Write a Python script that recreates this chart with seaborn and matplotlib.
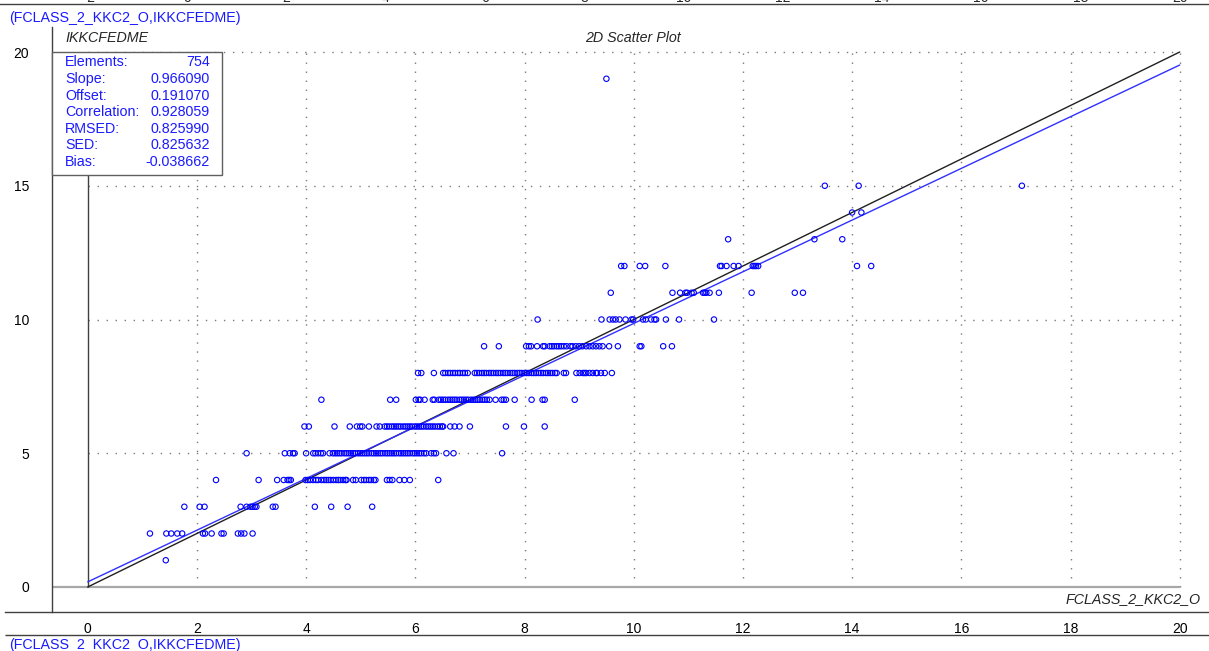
import numpy as np
import pandas as pd
import matplotlib
matplotlib.use('Agg')
import matplotlib.pyplot as plt
from matplotlib.patches import Rectangle
from matplotlib.ticker import FixedLocator
import seaborn as sns

# 数据：按 y 值分行记录散点的 x 值
x_at_1 = [1.43]
x_at_2 = [1.14, 1.44, 1.53, 1.64, 1.73, 2.11, 2.15, 2.27, 2.45, 2.49, 2.75, 2.81, 2.87, 3.02]
x_at_3 = [1.77, 2.05, 2.14, 2.80, 2.91, 2.98, 3.02, 3.06, 3.09, 3.39, 3.44, 4.16, 4.46, 4.76, 5.21]
x_at_4 = [2.35, 3.13, 3.47, 3.59, 3.66, 3.69, 3.72, 3.99, 4.03, 4.07, 4.13, 4.18, 4.22, 4.28,
          4.33, 4.37, 4.41, 4.45, 4.50, 4.55, 4.59, 4.63, 4.68, 4.72, 4.74, 4.86, 4.91, 5.01,
          5.06, 5.10, 5.15, 5.19, 5.24, 5.27, 5.48, 5.53, 5.58, 5.71, 5.80, 5.90, 6.42]
x_at_5 = [2.91, 3.61, 3.70, 3.76, 3.79, 4.00, 4.13, 4.17, 4.22, 4.27, 4.31, 4.43,
          4.49, 4.53, 4.57, 4.61, 4.65, 4.70, 4.74, 4.78, 4.82, 4.86, 4.90, 4.95, 4.99,
          5.03, 5.07, 5.11, 5.15, 5.20, 5.24, 5.28, 5.32, 5.36, 5.40, 5.45, 5.49, 5.53,
          5.57, 5.61, 5.65, 5.70, 5.74, 5.78, 5.82, 5.86, 5.90, 5.95, 5.99, 6.03, 6.07,
          6.11, 6.16, 6.20, 6.29, 6.34, 6.38, 6.57, 6.70, 7.59]
x_at_6 = [3.97, 4.05, 4.52, 4.80, 4.93, 4.99, 5.03, 5.15, 5.29, 5.35,
          5.44, 5.48, 5.52, 5.57, 5.61, 5.65, 5.69, 5.73, 5.78, 5.82, 5.86, 5.90, 5.94,
          5.99, 6.03, 6.07, 6.11, 6.15, 6.20, 6.24, 6.28, 6.32, 6.36, 6.41, 6.45, 6.49,
          6.51, 6.64, 6.72, 6.81, 7.00, 7.66, 7.99, 8.37]
x_at_7 = [4.28, 5.54, 5.65, 6.01, 6.06, 6.09, 6.17, 6.32, 6.35,
          6.43, 6.47, 6.51, 6.55, 6.60, 6.64, 6.68, 6.72, 6.76, 6.81, 6.85, 6.89, 6.93,
          6.97, 7.02, 7.06, 7.10, 7.14, 7.18, 7.23, 7.27, 7.31, 7.36,
          7.47, 7.58, 7.62, 7.66, 7.82, 8.13, 8.33, 8.37, 8.92]
x_at_8 = [6.05, 6.11, 6.34, 6.51, 6.55, 6.60, 6.64, 6.69, 6.73, 6.78, 6.82, 6.87, 6.91, 6.96,
          7.09, 7.13, 7.17, 7.22, 7.26, 7.30, 7.35, 7.39, 7.43, 7.48, 7.52, 7.56, 7.61,
          7.65, 7.69, 7.74, 7.78, 7.82, 7.87, 7.91, 7.95, 8.00, 8.04, 8.08, 8.13, 8.17,
          8.21, 8.26, 8.30, 8.34, 8.39, 8.43, 8.47, 8.51, 8.56, 8.59, 8.72, 8.76,
          8.95, 9.01, 9.07, 9.10, 9.13, 9.19, 9.25, 9.31, 9.33, 9.40, 9.47, 9.60]
x_at_9 = [7.26, 7.53, 8.03, 8.08, 8.12, 8.23, 8.34, 8.37, 8.46, 8.50, 8.54, 8.59, 8.63,
          8.67, 8.72, 8.77, 8.84, 8.88, 8.94, 9.00, 9.06, 9.13, 9.19, 9.25, 9.31, 9.37,
          9.43, 9.55, 9.71, 10.11, 10.14, 10.54, 10.70]
x_at_10 = [8.24, 9.41, 9.56, 9.62, 9.67, 9.74, 9.85, 9.96, 9.99, 10.17, 10.22, 10.32,
           10.38, 10.41, 10.59, 10.83, 11.47]
x_at_11 = [9.58, 10.71, 10.85, 10.95, 10.98, 11.06, 11.10, 11.27, 11.30, 11.33, 11.39,
           11.56, 12.16, 12.95, 13.10]
x_at_12 = [9.77, 9.83, 10.11, 10.21, 10.58, 11.58, 11.61, 11.70, 11.83, 11.92, 12.18,
           12.21, 12.24, 12.28, 14.09, 14.35]
x_at_13 = [11.73, 13.31, 13.82]
x_at_14 = [14.00, 14.17]
x_at_15 = [13.50, 14.12, 17.11]
x_at_19 = [9.50]

y_levels = [1, 2, 3, 4, 5, 6, 7, 8, 9, 10, 11, 12, 13, 14, 15, 19]
x_rows = [x_at_1, x_at_2, x_at_3, x_at_4, x_at_5, x_at_6, x_at_7, x_at_8, x_at_9,
          x_at_10, x_at_11, x_at_12, x_at_13, x_at_14, x_at_15, x_at_19]

# 统计信息
stat_names = ['Elements:', 'Slope:', 'Offset:', 'Correlation:', 'RMSED:', 'SED:', 'Bias:']
stat_values = ['754', '0.966090', '0.191070', '0.928059', '0.825990', '0.825632', '-0.038662']
slope = 0.966090
offset = 0.191070

x_ticks = [0, 2, 4, 6, 8, 10, 12, 14, 16, 18, 20]
y_ticks = [0, 5, 10, 15, 20]
top_ticks = [-2, 0, 2, 4, 6, 8, 10, 12, 14, 16, 18, 20]

df = pd.DataFrame({
    'FCLASS_2_KKC2_O': [x for xs, yv in zip(x_rows, y_levels) for x in xs],
    'IKKCFEDME': [yv for xs, yv in zip(x_rows, y_levels) for x in xs],
})

sns.set_theme(style='white')
plt.rcParams['font.family'] = ['Liberation Sans', 'DejaVu Sans']

W, H = 1209, 651
fig = plt.figure(figsize=(W / 100, H / 100), dpi=100)
ax = fig.add_axes([0, 0, 1, 1])

# 像素位置 -> 数据坐标
def dx(px):
    return (px - 87.7) / 54.6

def dy(py):
    return (587 - py) / 26.75

ax.set_xlim(dx(0), dx(W))
ax.set_ylim(dy(H), dy(0))
ax.set_facecolor('white')

dark = '#404040'
blue = '#1a1aff'

# 坐标轴
for s in ['top', 'right']:
    ax.spines[s].set_visible(False)
ax.spines['left'].set_position(('data', dx(52)))
ax.spines['left'].set_bounds(dy(612), dy(27))
ax.spines['bottom'].set_position(('data', dy(612)))
ax.spines['bottom'].set_bounds(dx(5), dx(W))
for s in ['left', 'bottom']:
    ax.spines[s].set_color(dark)
    ax.spines[s].set_linewidth(1)

ax.xaxis.set_major_locator(FixedLocator(x_ticks))
ax.xaxis.set_minor_locator(FixedLocator([v + 0.5 * k for v in x_ticks[:-1] for k in (1, 2, 3)]))
ax.yaxis.set_major_locator(FixedLocator(y_ticks))
ax.yaxis.set_minor_locator(FixedLocator([v for v in range(1, 20) if v % 5]))
ax.tick_params(axis='x', which='major', direction='out', length=4, width=1, color=dark,
               pad=3, labelsize=10, labelcolor='black')
ax.tick_params(axis='x', which='minor', direction='out', length=2, width=1, color=dark)
ax.tick_params(axis='y', which='major', direction='out', length=11.5, width=1.6,
               color='#a8a8a8', pad=5, labelsize=10, labelcolor='black')
ax.tick_params(axis='y', which='minor', direction='out', length=5, width=1, color=dark)

# 顶部坐标轴
sec = ax.secondary_xaxis(1 - 4 / H, functions=(lambda x: x * 1.1 - 2, lambda t: (t + 2) / 1.1))
sec.set_xticks(top_ticks)
sec.tick_params(direction='in', length=0, pad=-1, labelsize=10)
sec.spines['top'].set_color(dark)
sec.spines['top'].set_linewidth(1)

# 底部第二条线
ax.hlines(dy(635), dx(5), dx(W), color=dark, lw=1)

# 网格虚线
ax.vlines(x_ticks[1:], 0, 20, colors='#7a7a7a', lw=1, linestyles=[(0, (1, 5.5))])
ax.hlines(y_ticks[1:], 0, 20, colors='#7a7a7a', lw=1, linestyles=[(0, (1, 5.5))])
ax.hlines(0, dx(52), 20, colors='#a8a8a8', lw=1.6)
ax.vlines(0, 0, 20, colors=dark, lw=1)

# 1:1 线和回归线
ax.plot([0, 20], [0, 20], color='#202020', lw=1, zorder=3)
ax.plot([0, 20], [offset, offset + slope * 20], color='#3030ff', lw=1, zorder=3)

sns.scatterplot(data=df, x='FCLASS_2_KKC2_O', y='IKKCFEDME', ax=ax, marker='o', s=15,
                facecolor='none', edgecolor='#0000ff', linewidth=0.8, zorder=4, legend=False)
ax.set_xlabel('')
ax.set_ylabel('')

# 统计框
ax.add_patch(Rectangle((dx(52), dy(174.5)), dx(222) - dx(52), dy(52) - dy(174.5),
                       facecolor='white', edgecolor='#606060', lw=1, zorder=6))
row_py = [62.3, 79, 95.7, 112.3, 128.6, 145, 161.8]
for name, val, py in zip(stat_names, stat_values, row_py):
    ax.text(dx(65), dy(py), name, color=blue, fontsize=10.3, ha='left', va='center', zorder=7)
    ax.text(dx(210), dy(py), val, color=blue, fontsize=10.3, ha='right', va='center', zorder=7)

# 文本
ax.text(dx(9), dy(18), '(FCLASS_2_KKC2_O,IKKCFEDME)', color=blue, fontsize=10.3,
        ha='left', va='center')
ax.text(dx(9), dy(649), '(FCLASS_2_KKC2_O,IKKCFEDME)', color=blue, fontsize=10.3,
        ha='left', va='baseline')
ax.text(dx(65), dy(38), 'IKKCFEDME', fontstyle='italic', fontsize=10.3, ha='left', va='center')
ax.text(dx(633), dy(38), '2D Scatter Plot', fontstyle='italic', fontsize=10.3, ha='center', va='center')
ax.text(dx(1201), dy(599), 'FCLASS_2_KKC2_O', fontstyle='italic', fontsize=10.3,
        ha='right', va='center')

fig.savefig('out.png', dpi=100)
